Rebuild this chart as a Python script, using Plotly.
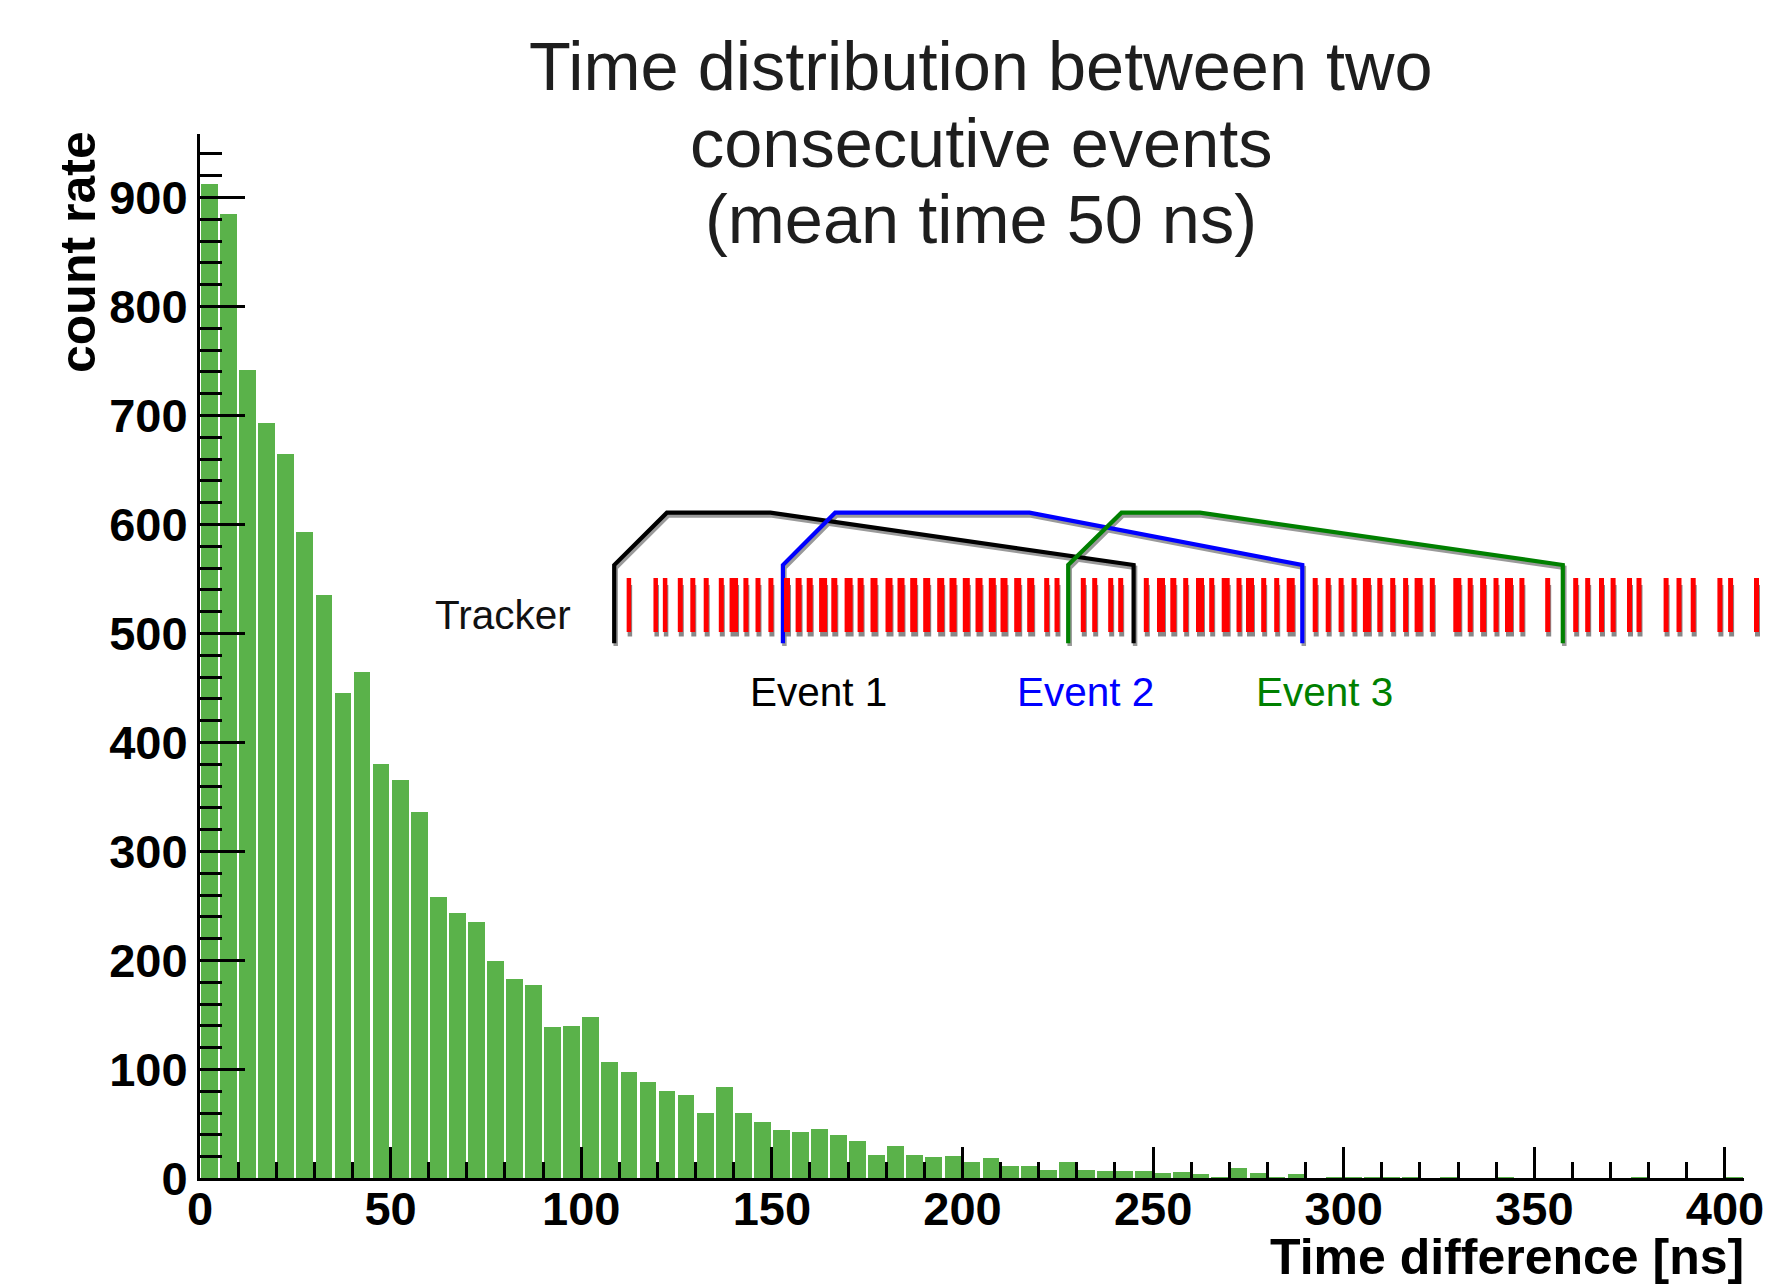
import plotly.graph_objects as go

# ---------------- data ----------------
bin_width_ns = 5
bin_start_ns = list(range(0, 405, bin_width_ns))          # 81 bins, 0..405 ns
counts = [913, 885, 742, 693, 665, 593, 536, 446, 465, 381,
          366, 337, 259, 244, 236, 200, 183, 178, 139, 140,
          148, 107, 98, 89, 81, 77, 60, 84, 60, 52,
          45, 43, 46, 40, 35, 22, 30, 22, 20, 21,
          15, 19, 12, 12, 8, 15, 8, 7, 7, 7,
          5, 6, 4, 2, 10, 5, 2, 4, 0, 2,
          1, 1, 2, 2, 0, 2, 0, 0, 1, 0,
          0, 0, 0, 0, 0, 1, 0, 0, 0, 0,
          1]
x_tick_vals = [0, 50, 100, 150, 200, 250, 300, 350, 400]
y_tick_vals = [0, 100, 200, 300, 400, 500, 600, 700, 800, 900]
title_lines = ["Time distribution between two", "consecutive events", "(mean time 50 ns)"]
x_title = "Time difference [ns]"
y_title = "count rate"
event_labels = ["Event 1", "Event 2", "Event 3"]
event_colors = ["#000000", "#0000ff", "#008000"]

# ---------------- inset schematic geometry (page pixels) ----------------
tracker_hits_px = [628.9, 655.7, 665.1, 680.3, 692.8, 706.2, 721.3, 733.8, 745.9, 758.0,
                   770.9, 787.0, 798.6, 809.7, 823.1, 834.3, 848.6, 860.6, 874.0, 889.0,
                   901.0, 913.7, 926.7, 940.7, 953.0, 966.3, 979.0, 992.3, 1004.0, 1017.7,
                   1030.7, 1046.7, 1057.0, 1083.3, 1094.7, 1110.7, 1120.7, 1146.3, 1161.0, 1173.3,
                   1185.7, 1200.0, 1211.7, 1225.7, 1239.0, 1250.0, 1263.7, 1276.7, 1290.7, 1315.2,
                   1328.2, 1341.1, 1354.0, 1366.9, 1379.8, 1392.7, 1405.6, 1418.6, 1432.3, 1457.3,
                   1470.2, 1483.1, 1496.0, 1509.0, 1521.9, 1547.7, 1575.7, 1587.7, 1601.5, 1613.1,
                   1629.5, 1639.0, 1666.1, 1679.0, 1693.2, 1719.9, 1730.6, 1756.5]
tracker_hit_w = [4.5, 4.5, 4.5, 5, 5, 5, 5, 8.5, 5, 5,
                 5, 6, 6, 6, 8, 6, 8, 6, 7, 7,
                 7, 7, 7, 7, 7, 7, 7, 7, 7, 7,
                 7, 5, 5, 5, 5, 5, 5, 5, 8, 6,
                 5, 8, 5, 8, 5, 8, 5, 5, 8, 5,
                 5, 5, 5, 8, 5, 5, 5, 8, 5, 8,
                 5, 6, 5, 8, 5, 5, 5, 5, 5, 5,
                 5, 5, 5, 5, 5, 5, 5, 5]
event_paths_px = [
    ([614.2, 614.2, 666.9, 770.4, 1133.6, 1133.6], [643.3, 565, 512.7, 512.7, 565, 643.3]),
    ([782.9, 782.9, 835.2, 1029.4, 1302.3, 1302.3], [643.3, 565, 512.7, 512.7, 565, 643.3]),
    ([1068.2, 1068.2, 1121.5, 1199.9, 1562.8, 1562.8], [643.3, 565, 512.7, 512.7, 565, 643.3]),
]
event_label_pos = [(818.5, 691.5), (1085.8, 692.0), (1324.9, 692.0)]

# ---------------- figure ----------------
W, H = 1775, 1288
PL, PR, PT, PB = 200, 1744, 133.6, 1178.4
FONT = "Liberation Sans, Arial, sans-serif"

fig = go.Figure()
fig.add_trace(go.Bar(
    x=[s + bin_width_ns / 2 for s in bin_start_ns], y=counts, width=4.4,
    marker=dict(color="#5ab24a", line=dict(width=0)),
    xaxis="x", yaxis="y", hoverinfo="x+y", showlegend=False))

# schematic lines with drop shadow (full-page pixel frame x2/y2)
for (px, py) in event_paths_px:
    fig.add_trace(go.Scatter(x=[v + 1.5 for v in px], y=[v + 2.8 for v in py], mode="lines",
                             line=dict(color="#9a9a9a", width=4.5), xaxis="x2", yaxis="y2",
                             hoverinfo="skip", showlegend=False))
for (px, py), col in zip(event_paths_px, event_colors):
    fig.add_trace(go.Scatter(x=px, y=py, mode="lines",
                             line=dict(color=col, width=4.2), xaxis="x2", yaxis="y2",
                             hoverinfo="skip", showlegend=False))

shapes = []
for xc, w in zip(tracker_hits_px, tracker_hit_w):
    shapes.append(dict(type="rect", xref="x2", yref="y2", x0=xc - w / 2 + 1, x1=xc + w / 2 + 1,
                       y0=585, y1=636.5, fillcolor="#888888", line=dict(width=0), layer="above"))
for xc, w in zip(tracker_hits_px, tracker_hit_w):
    shapes.append(dict(type="rect", xref="x2", yref="y2", x0=xc - w / 2, x1=xc + w / 2,
                       y0=578, y1=632, fillcolor="#ff0000", line=dict(width=0), layer="above"))

annotations = []
for txt, yc in zip(title_lines, [66.1, 143.5, 219.5]):
    annotations.append(dict(text=txt, x=981, y=yc, xref="x2", yref="y2", showarrow=False,
                            xanchor="center", yanchor="middle",
                            font=dict(family=FONT, size=68.5, color="#1e1e1e")))
annotations.append(dict(text=y_title, x=78, y=252, xref="x2", yref="y2", showarrow=False,
                        textangle=-90, xanchor="center", yanchor="middle",
                        font=dict(family=FONT, size=50, color="black", weight="bold")))
annotations.append(dict(text=x_title, x=1746, y=1257, xref="x2", yref="y2", showarrow=False,
                        xanchor="right", yanchor="middle",
                        font=dict(family=FONT, size=50, color="black", weight="bold")))
annotations.append(dict(text="Tracker", x=502.6, y=614.8, xref="x2", yref="y2", showarrow=False,
                        xanchor="center", yanchor="middle",
                        font=dict(family=FONT, size=40.5, color="#111111")))
for txt, col, (ex, ey) in zip(event_labels, event_colors, event_label_pos):
    annotations.append(dict(text=txt, x=ex, y=ey, xref="x2", yref="y2", showarrow=False,
                            xanchor="center", yanchor="middle",
                            font=dict(family=FONT, size=40.5, color=col)))

tickfont = dict(family=FONT, size=47, color="black", weight="bold")
fig.update_layout(
    width=W, height=H, margin=dict(l=0, r=0, t=0, b=0, autoexpand=False),
    paper_bgcolor="white", plot_bgcolor="rgba(0,0,0,0)",
    showlegend=False, bargap=0,
    xaxis=dict(domain=[PL / W, PR / W], range=[0, 405], anchor="y",
               showline=True, linecolor="black", linewidth=3,
               ticks="inside", tickmode="array", tickvals=x_tick_vals,
               ticklen=31, tickwidth=2.5, tickcolor="black", ticklabelstandoff=-13,
               minor=dict(ticks="inside", tick0=0, dtick=10, ticklen=16, tickwidth=2.5,
                          tickcolor="black", showgrid=False),
               showgrid=False, zeroline=False, tickfont=tickfont, automargin=False,
               fixedrange=True),
    yaxis=dict(domain=[(H - PB) / H, (H - PT) / H], range=[0, 958.6], anchor="x",
               showline=True, linecolor="black", linewidth=3,
               ticks="inside", tickmode="array", tickvals=y_tick_vals,
               ticklen=45, tickwidth=3, tickcolor="black",
               minor=dict(ticks="inside", tick0=0, dtick=20, ticklen=22, tickwidth=3,
                          tickcolor="black", showgrid=False),
               showgrid=False, zeroline=False, tickfont=tickfont, automargin=False,
               fixedrange=True),
    xaxis2=dict(domain=[0, 1], range=[0, W], anchor="y2", visible=False, showgrid=False,
                zeroline=False, fixedrange=True),
    yaxis2=dict(domain=[0, 1], range=[H, 0], anchor="x2", visible=False, showgrid=False,
                zeroline=False, fixedrange=True),
    shapes=shapes, annotations=annotations,
)

fig.write_html("out.html")
